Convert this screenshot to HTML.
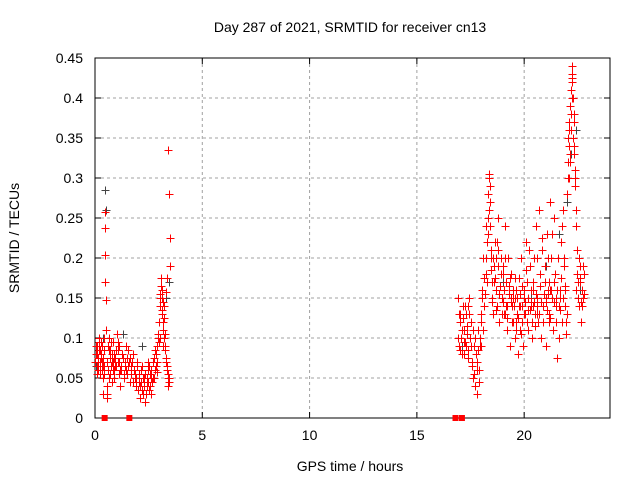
<!DOCTYPE html>
<html><head><meta charset="utf-8"><style>
html,body{margin:0;padding:0;background:#fff;}
svg{display:block;font-family:"Liberation Sans",sans-serif;}
</style></head><body>
<svg id="chart" width="640" height="480" viewBox="0 0 640 480">
<rect width="640" height="480" fill="#fff"/>
<text x="350" y="32" text-anchor="middle" font-size="14">Day 287 of 2021, SRMTID for receiver cn13</text>
<g id="grid"></g>
<g id="axes"></g>
<g id="marks"></g>
<text x="350" y="471" text-anchor="middle" font-size="14">GPS time / hours</text>
<text transform="translate(19,238) rotate(-90)" text-anchor="middle" font-size="14">SRMTID / TECUs</text>
</svg>
<script>
const xTicks=[0,5,10,15,20];
const yTicks=[0,0.05,0.1,0.15,0.2,0.25,0.3,0.35,0.4,0.45];
const yTickLabels=["0","0.05","0.1","0.15","0.2","0.25","0.3","0.35","0.4","0.45"];
// red series segment A (hours, TECU)
const redTA=[0.02,0.05,0.08,0.1,0.12,0.15,0.18,0.2,0.22,0.25,0.28,0.3,0.32,0.35,0.38,0.4,0.42,0.44,0.45,0.46,0.47,0.48,0.5,0.52,0.55,0.58,0.6,0.62,0.65,0.68,0.7,0.72,0.75,0.78,0.8,0.82,0.85,0.88,0.9,0.95,1.0,1.02,1.05,1.1,1.12,1.15,1.2,1.25,1.3,1.35,1.4,1.45,1.5,1.55,1.6,1.65,1.7,1.75,1.8,1.85,1.9,1.95,2.0,2.05,2.1,2.15,2.2,2.25,2.3,2.35,2.4,2.45,2.5,2.55,2.6,2.65,2.7,2.75,2.8,2.85,2.9,2.95,3.0,3.02,3.05,3.08,3.1,3.12,3.15,3.18,3.2,3.22,3.25,3.3,3.35,3.38,3.4,3.42,3.45,3.5,3.48,3.36,3.32,0.36,0.33,0.58,0.9,1.05,2.45,2.62,2.9,3.05,3.15];
const redVA=[0.07,0.08,0.065,0.09,0.075,0.06,0.085,0.1,0.07,0.055,0.08,0.095,0.06,0.075,0.05,0.085,0.065,0.1,0.258,0.238,0.204,0.17,0.148,0.11,0.03,0.025,0.09,0.06,0.1,0.075,0.055,0.085,0.065,0.045,0.08,0.07,0.095,0.06,0.05,0.075,0.065,0.105,0.085,0.055,0.07,0.04,0.06,0.08,0.075,0.05,0.065,0.09,0.055,0.085,0.07,0.045,0.065,0.08,0.06,0.05,0.04,0.07,0.035,0.055,0.025,0.045,0.065,0.03,0.05,0.02,0.04,0.06,0.035,0.055,0.03,0.045,0.07,0.05,0.085,0.065,0.09,0.105,0.12,0.14,0.155,0.175,0.13,0.16,0.145,0.11,0.125,0.1,0.085,0.07,0.06,0.05,0.04,0.335,0.28,0.225,0.19,0.175,0.158,0.03,0.06,0.04,0.075,0.095,0.07,0.05,0.058,0.1,0.09,0.065];
// extra red points segment A
const redTA2=[0.03,0.07,0.11,0.14,0.17,0.21,0.24,0.27,0.31,0.34,0.37,0.41,0.56,0.63,0.67,0.73,0.77,0.83,0.87,0.93,0.97,1.07,1.14,1.18,1.23,1.28,1.33,1.38,1.43,1.48,1.52,1.62,1.68,1.72,1.78,1.83,1.88,1.93,1.98,2.03,2.08,2.13,2.18,2.23,2.28,2.33,2.38,2.43,2.48,2.53,2.58,2.63,2.68,2.73,2.78,2.83,2.88,2.93,2.98,3.04,3.07,3.11,3.14,3.17,3.21,3.24,3.28,3.33,3.37,3.41,3.44,3.47];
const redVA2=[0.09,0.055,0.08,0.07,0.095,0.06,0.085,0.075,0.07,0.09,0.065,0.055,0.07,0.085,0.05,0.095,0.07,0.06,0.08,0.065,0.085,0.07,0.09,0.06,0.065,0.08,0.055,0.07,0.06,0.075,0.065,0.075,0.055,0.07,0.045,0.06,0.055,0.05,0.065,0.045,0.04,0.06,0.035,0.05,0.04,0.055,0.03,0.05,0.045,0.065,0.04,0.06,0.05,0.075,0.06,0.08,0.07,0.1,0.095,0.15,0.165,0.135,0.15,0.12,0.14,0.105,0.09,0.075,0.065,0.055,0.05,0.045];
// red series segment B
const redTB=[16.9,16.95,17.0,17.05,17.1,17.15,17.2,17.25,17.3,17.35,17.4,17.45,17.5,17.55,17.6,17.65,17.7,17.75,17.8,17.85,17.9,17.95,18.0,18.05,18.1,18.15,18.2,18.25,18.3,18.33,18.36,18.4,18.42,18.45,18.48,18.5,18.55,18.6,18.65,18.7,18.75,18.8,18.85,18.9,18.95,19.0,19.05,19.1,19.15,19.2,19.25,19.3,19.35,19.4,19.45,19.5,19.55,19.6,19.65,19.7,19.75,19.8,19.85,19.9,19.95,20.0,20.05,20.1,20.15,20.2,20.25,20.3,20.35,20.4,20.45,20.5,20.55,20.6,20.65,20.7,20.75,20.8,20.85,20.9,20.95,21.0,21.05,21.1,21.15,21.2,21.25,21.3,21.35,21.4,21.45,21.5,21.55,21.6,21.65,21.7,21.75,21.8,21.85,21.9,21.95,22.0,22.02,22.05,22.08,22.1,22.12,22.15,22.18,22.2,22.22,22.25,22.28,22.3,22.32,22.35,22.38,22.4,22.45,22.5,22.55,22.6,22.65,22.7,22.75,22.8,17.0,17.2,17.4,17.6,17.8,18.0,18.2,18.6,18.8,19.0,19.2,19.4,19.6,19.8,20.0,20.2,20.4,20.6,20.8,21.0,21.2,21.4,21.6,21.8,22.0,22.4,22.6,18.7,19.1,19.5,19.9,20.3,20.7,21.1,21.5,21.9,22.7];
const redVB=[0.15,0.09,0.12,0.1,0.08,0.14,0.11,0.095,0.13,0.105,0.085,0.15,0.12,0.07,0.05,0.09,0.04,0.08,0.03,0.11,0.06,0.1,0.12,0.16,0.2,0.14,0.18,0.22,0.25,0.28,0.305,0.27,0.24,0.2,0.17,0.15,0.13,0.19,0.22,0.16,0.14,0.21,0.12,0.18,0.15,0.19,0.13,0.24,0.17,0.11,0.2,0.155,0.09,0.18,0.14,0.12,0.1,0.16,0.13,0.08,0.175,0.14,0.2,0.12,0.09,0.15,0.13,0.22,0.17,0.11,0.19,0.14,0.1,0.16,0.2,0.13,0.24,0.15,0.12,0.26,0.18,0.1,0.21,0.14,0.17,0.09,0.23,0.16,0.13,0.27,0.2,0.15,0.11,0.25,0.18,0.14,0.075,0.1,0.16,0.22,0.12,0.26,0.19,0.14,0.105,0.28,0.32,0.35,0.3,0.37,0.33,0.39,0.36,0.41,0.44,0.43,0.4,0.38,0.34,0.31,0.29,0.26,0.21,0.17,0.14,0.19,0.12,0.16,0.15,0.18,0.13,0.08,0.14,0.11,0.06,0.09,0.24,0.17,0.25,0.18,0.14,0.15,0.12,0.11,0.16,0.135,0.14,0.13,0.145,0.15,0.16,0.17,0.14,0.15,0.13,0.16,0.175,0.2,0.13,0.15,0.14,0.145,0.13,0.155,0.15,0.16,0.14,0.12];
// extra red points segment B
const redTB2=[16.92,16.98,17.03,17.08,17.13,17.18,17.23,17.28,17.33,17.38,17.43,17.48,17.53,17.58,17.63,17.68,17.73,17.78,17.83,17.88,17.93,17.98,18.03,18.08,18.13,18.18,18.23,18.28,18.32,18.35,18.38,18.41,18.44,18.47,18.52,18.57,18.62,18.67,18.72,18.77,18.82,18.87,18.92,18.97,19.02,19.07,19.12,19.17,19.22,19.27,19.32,19.37,19.42,19.47,19.52,19.57,19.62,19.67,19.72,19.77,19.82,19.87,19.92,19.97,20.02,20.07,20.12,20.17,20.22,20.27,20.32,20.37,20.42,20.47,20.52,20.57,20.62,20.67,20.72,20.77,20.82,20.87,20.92,20.97,21.02,21.07,21.12,21.17,21.22,21.27,21.32,21.37,21.42,21.47,21.52,21.57,21.62,21.67,21.72,21.77,21.82,21.87,21.92,21.97,22.03,22.07,22.11,22.14,22.17,22.21,22.24,22.27,22.31,22.34,22.37,22.42,22.47,22.52,22.57,22.62,22.67,22.72,22.77,18.35,18.4,19.55,20.05,20.6,21.15,21.65,22.25];
const redVB2=[0.1,0.13,0.085,0.11,0.125,0.095,0.14,0.09,0.115,0.075,0.13,0.1,0.09,0.065,0.11,0.055,0.1,0.07,0.085,0.045,0.09,0.13,0.15,0.11,0.175,0.155,0.2,0.17,0.23,0.3,0.26,0.29,0.21,0.185,0.145,0.2,0.175,0.135,0.22,0.19,0.155,0.165,0.2,0.13,0.145,0.16,0.2,0.14,0.125,0.165,0.175,0.145,0.12,0.16,0.14,0.175,0.11,0.15,0.125,0.14,0.155,0.105,0.165,0.13,0.145,0.185,0.12,0.15,0.21,0.135,0.16,0.12,0.17,0.145,0.115,0.155,0.2,0.13,0.165,0.145,0.225,0.12,0.155,0.19,0.145,0.135,0.2,0.17,0.125,0.16,0.23,0.145,0.18,0.12,0.16,0.2,0.14,0.135,0.175,0.24,0.15,0.2,0.165,0.12,0.3,0.34,0.36,0.32,0.38,0.4,0.42,0.35,0.37,0.33,0.3,0.24,0.18,0.15,0.2,0.17,0.145,0.19,0.155,0.305,0.29,0.15,0.13,0.14,0.12,0.15,0.425];
// gray series
const grayT=[0.05,0.2,0.35,0.45,0.5,1.3,2.2,3.3,3.45,17.1,17.6,17.9,18.4,19.0,19.6,20.3,21.0,21.6,22.0,22.2,22.4,22.6];
const grayV=[0.065,0.085,0.1,0.285,0.26,0.105,0.09,0.15,0.17,0.09,0.05,0.045,0.27,0.17,0.12,0.15,0.19,0.23,0.27,0.33,0.36,0.16];
// zero-valued markers
const zeroT=[0.45,1.6,16.8,17.1];

const L=95,R=610,T=58,B=418,XMAX=24,YMAX=0.45;
const xs=t=>L+t/XMAX*(R-L);
const ys=v=>B-v/YMAX*(B-T);
const NS="http://www.w3.org/2000/svg";
const grid=document.getElementById('grid'),axes=document.getElementById('axes'),marks=document.getElementById('marks');
function mk(tag,a,p){const e=document.createElementNS(NS,tag);for(const k in a)e.setAttribute(k,a[k]);p.appendChild(e);return e;}
xTicks.forEach(t=>{const x=xs(t);
 if(t>0){const g=mk('line',{x1:x,x2:x,y1:T,y2:B,stroke:'#a0a0a0','stroke-dasharray':'3,3'},grid);
 
 }
 mk('line',{x1:x,x2:x,y1:B,y2:B-6,stroke:'#000'},axes);
 mk('line',{x1:x,x2:x,y1:T,y2:T+6,stroke:'#000'},axes);
 const lb=mk('text',{x:x,y:B+22,'text-anchor':'middle','font-size':'14'},axes);lb.textContent=t;
 
 
});
yTicks.forEach((v,i)=>{const y=ys(v);
 if(v>0&&v<YMAX){const g=mk('line',{x1:L,x2:R,y1:y,y2:y,stroke:'#a0a0a0','stroke-dasharray':'3,3'},grid);
 
 }
 mk('line',{x1:L,x2:L+6,y1:y,y2:y,stroke:'#000'},axes);
 mk('line',{x1:R,x2:R-6,y1:y,y2:y,stroke:'#000'},axes);
 const lb=mk('text',{x:L-12,y:y+5,'text-anchor':'end','font-size':'14'},axes);lb.textContent=yTickLabels[i];
 
 
});
mk('rect',{x:L,y:T,width:R-L,height:B-T,fill:'none',stroke:'#000'},axes);
function plus(t,v,c,name){const x=Math.round(xs(t))+0.5,y=Math.round(ys(v))+0.5;
 const p=mk('path',{d:`M${x-4},${y}h8M${x},${y-4}v8`,stroke:c,'stroke-width':'1'},marks);
 
 }
grayT.forEach((t,i)=>plus(t,grayV[i],'#444','gray-point'));
redTA.forEach((t,i)=>plus(t,redVA[i],'#f00','red-point'));
redTA2.forEach((t,i)=>plus(t,redVA2[i],'#f00','red-point'));
redTB.forEach((t,i)=>plus(t,redVB[i],'#f00','red-point'));
redTB2.forEach((t,i)=>plus(t,redVB2[i],'#f00','red-point'));
zeroT.forEach(t=>{const r=mk('rect',{x:xs(t)-3,y:B-3,width:6,height:6,fill:'#f00'},marks);
 
 });
</script>
</body></html>
